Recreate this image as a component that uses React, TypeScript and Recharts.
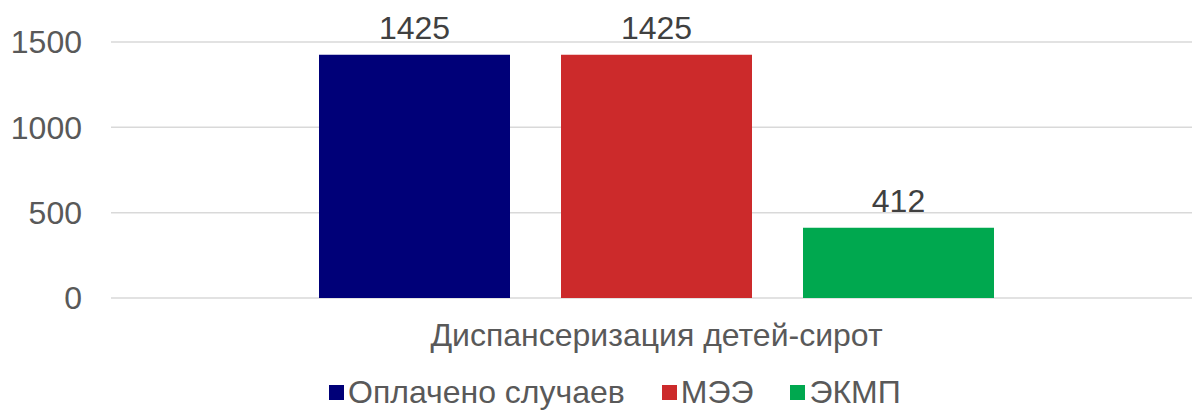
import React from 'react';
import { BarChart, Bar, XAxis, YAxis, CartesianGrid, Legend, LabelList } from 'recharts';

const categories = ['Диспансеризация детей-сирот'];
const seriesNames = ['Оплачено случаев', 'МЭЭ', 'ЭКМП'];
const seriesKeys = ['paid', 'mee', 'ekmp'];
const paidValues = [1425];
const meeValues = [1425];
const ekmpValues = [412];
const yTicks = [0, 500, 1000, 1500];

const COLORS = ['#000078', '#CC2A2B', '#00A84F'];
const FONT = '"Liberation Sans", Arial, sans-serif';
const FS = 32;

const data = categories.map((name, i) => ({
  name,
  paid: paidValues[i],
  mee: meeValues[i],
  ekmp: ekmpValues[i],
}));

function LegendContent() {
  return (
    <div
      style={{
        display: 'flex',
        alignItems: 'center',
        height: 40,
        paddingLeft: 329,
        fontFamily: FONT,
        fontSize: FS,
        color: '#595959',
      }}
    >
      {seriesNames.map((name, i) => (
        <div key={name} style={{ display: 'flex', alignItems: 'center', marginRight: 37 }}>
          <span style={{ width: 15, height: 15, background: COLORS[i], marginRight: 4, display: 'inline-block' }} />
          <span>{name}</span>
        </div>
      ))}
    </div>
  );
}

export default function App() {
  return (
    <div style={{ position: 'absolute', left: 0, top: 0, width: 1192, height: 415, overflow: 'hidden', background: '#fff' }}>
      <BarChart
        width={1215}
        height={415}
        data={data}
        margin={{ top: 42, right: 13, left: 0, bottom: 3 }}
        barGap={51}
        barSize={191}
      >
        <CartesianGrid vertical={false} stroke="#d9d9d9" strokeWidth={1.5} />
        <YAxis
          width={111}
          domain={[0, 1500]}
          ticks={yTicks}
          axisLine={false}
          tickLine={false}
          tickSize={6}
          tickMargin={23}
          tick={{ fill: '#595959', fontSize: FS, fontFamily: FONT }}
        />
        <XAxis
          dataKey="name"
          height={74}
          axisLine={false}
          tickLine={false}
          tickSize={6}
          tickMargin={19}
          tick={{ fill: '#595959', fontSize: FS, fontFamily: FONT }}
        />
        <Legend verticalAlign="bottom" content={<LegendContent />} wrapperStyle={{ left: 0, width: 1215, height: 40 }} />
        {seriesKeys.map((key, i) => (
          <Bar key={key} dataKey={key} name={seriesNames[i]} fill={COLORS[i]} isAnimationActive={false}>
            <LabelList dataKey={key} position="top" offset={16} fill="#404040" fontSize={FS} fontFamily={FONT} />
          </Bar>
        ))}
      </BarChart>
    </div>
  );
}
